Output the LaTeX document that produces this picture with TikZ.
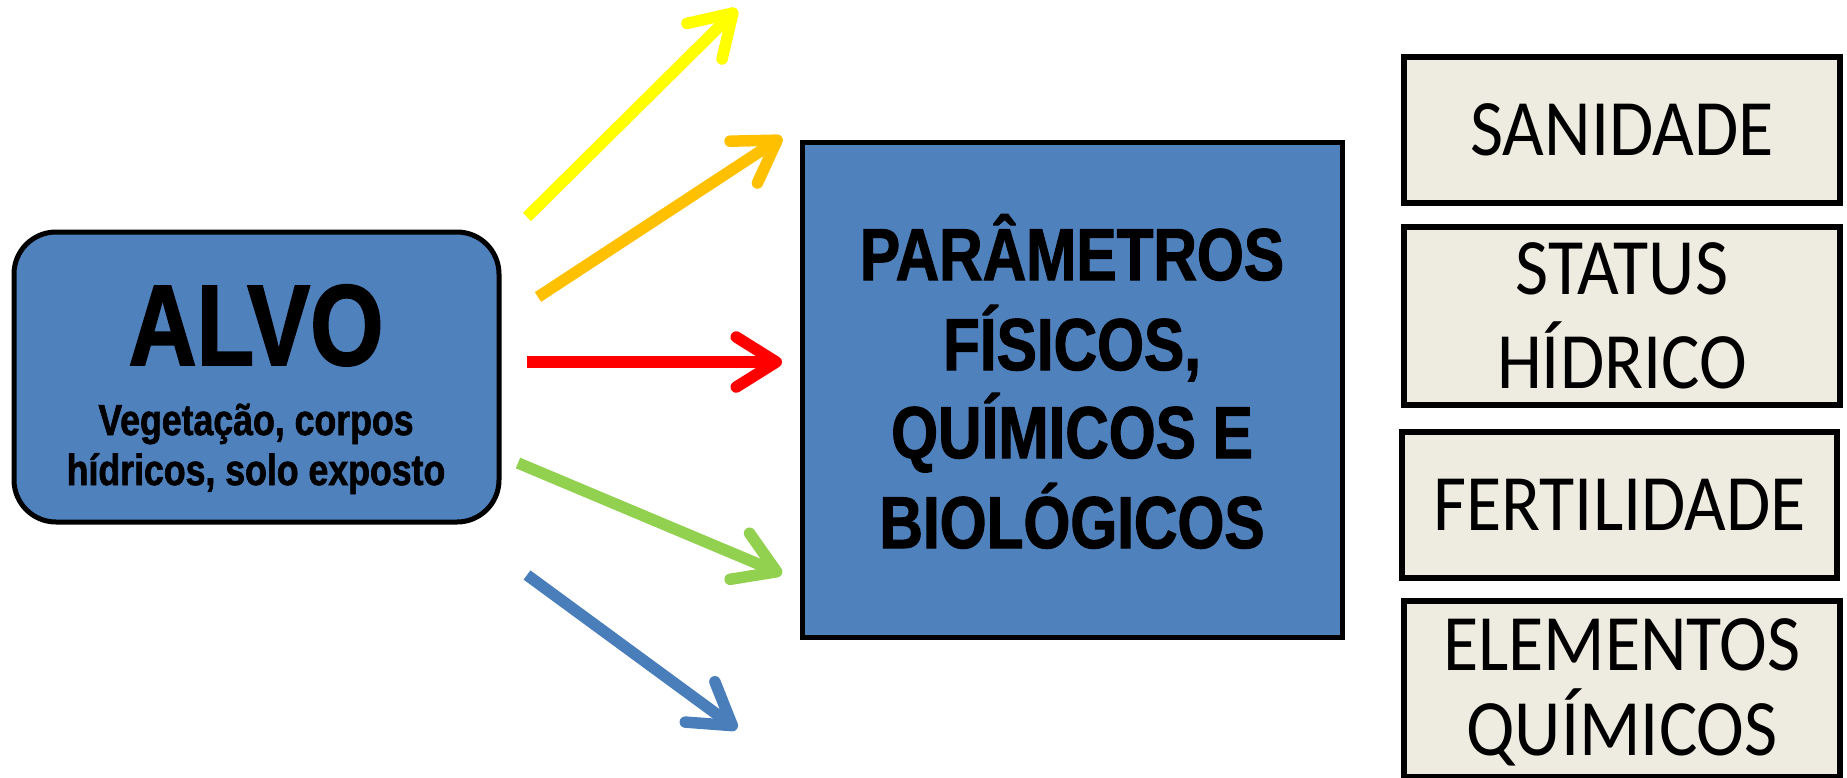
\documentclass[tikz,border=0pt]{standalone}
\usepackage{fontspec}
\usetikzlibrary{arrows.meta}
\newfontfamily\condfont[FakeStretch=0.82,FakeBold=1.5]{Liberation Sans}
\newfontfamily\boxfont[FakeStretch=0.9]{Carlito}
\definecolor{boxblue}{HTML}{4F81BD}
\definecolor{beige}{HTML}{EEECE1}
\definecolor{arrYellow}{HTML}{FFFF00}
\definecolor{arrOrange}{HTML}{FFC000}
\definecolor{arrRed}{HTML}{FF0000}
\definecolor{arrGreen}{HTML}{92D050}
\definecolor{arrBlue}{HTML}{4A7EBB}
\tikzset{
  bluebox/.style={draw=black, line width=5pt, fill=boxblue, inner sep=0pt, outer sep=0pt},
  beigebox/.style={draw=black, line width=5.5pt, fill=beige, inner sep=0pt, outer sep=0pt},
  txt/.style={anchor=base, inner sep=0pt, outer sep=0pt, text=black},
  alvotxt/.style={txt, font=\condfont\bfseries\fontsize{115}{115}\selectfont},
  subtxt/.style={txt, font=\condfont\bfseries\fontsize{43.5}{50}\selectfont},
  paramtxt/.style={txt, font=\condfont\bfseries\fontsize{73.5}{89}\selectfont},
  righttxt/.style={txt, font=\boxfont\fontsize{80}{90}\selectfont},
  arrowline/.style={line width=11.5pt, -{Straight Barb[length=40pt,width=50pt,round]}}
}
\begin{document}
\begin{tikzpicture}[x=1pt, y=-1pt]
\useasboundingbox (0,0) rectangle (1847,777);

% boxes
\node[bluebox, rounded corners=42pt, minimum width=485pt, minimum height=290pt] (alvo) at (256.5,377) {};
\node[bluebox, minimum width=540pt, minimum height=495pt] (param) at (1072,389.5) {};
\node[beigebox, minimum width=436pt, minimum height=146pt] (sanidade) at (1622,130) {};
\node[beigebox, minimum width=436pt, minimum height=178pt] (status) at (1622,316) {};
\node[beigebox, minimum width=435pt, minimum height=146pt] (fert) at (1619.5,505) {};
\node[beigebox, minimum width=436pt, minimum height=176pt] (elem) at (1622,689) {};

% texts
\node[alvotxt] (alvoT) at (256,365) {ALVO};
\node[subtxt] (alvoS1) at (256,435) {Vegetação, corpos};
\node[subtxt] (alvoS2) at (256,485) {hídricos, solo exposto};

\node[paramtxt] (p1) at (1072,280) {PARÂMETROS};
\node[paramtxt] (p2) at (1072,370) {FÍSICOS,};
\node[paramtxt] (p3) at (1072,458) {QUÍMICOS E};
\node[paramtxt] (p4) at (1072,548) {BIOLÓGICOS};

\node[righttxt] (r1) at (1622,155) {SANIDADE};
\node[righttxt] (r2a) at (1622,294) {STATUS};
\node[righttxt] (r2b) at (1622,388) {HÍDRICO};
\node[righttxt] (r3) at (1619.5,530) {FERTILIDADE};
\node[righttxt] (r4a) at (1622,670) {ELEMENTOS};
\node[righttxt] (r4b) at (1622,755) {QUÍMICOS};

% arrow end points
\coordinate (ys) at (527,217); \coordinate (ye) at (737,9);
\coordinate (os) at (538,297); \coordinate (oe) at (782,137);
\coordinate (rs) at (527,362); \coordinate (re) at (782,362);
\coordinate (gs) at (518,463); \coordinate (ge) at (782,574);
\coordinate (bs) at (527,575); \coordinate (be) at (737,729);

\draw[arrowline, arrYellow] (ys) -- (ye);
\draw[arrowline, arrOrange] (os) -- (oe);
\draw[arrowline, arrRed] (rs) -- (re);
\draw[arrowline, arrGreen] (gs) -- (ge);
\draw[arrowline, arrBlue] (bs) -- (be);
\end{tikzpicture}
\end{document}
